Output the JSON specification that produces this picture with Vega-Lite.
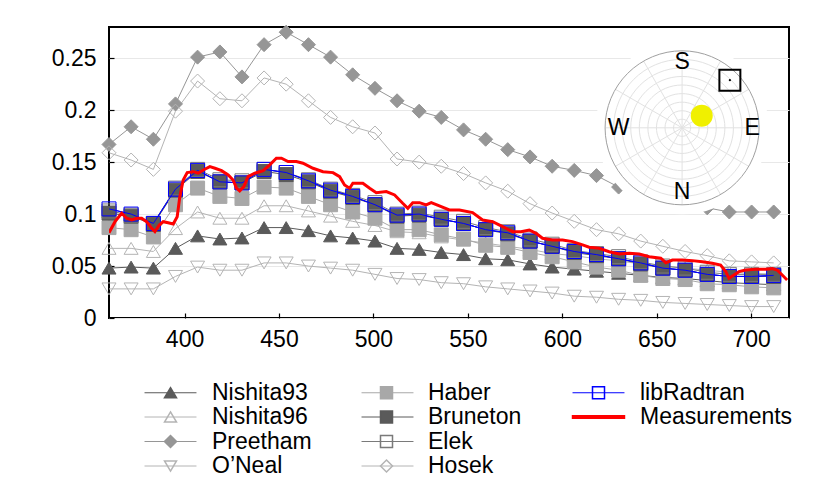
{
  "$schema": "https://vega.github.io/schema/vega-lite/v6.json",
  "width": 680,
  "height": 291,
  "autosize": "none",
  "padding": {"left": 109, "top": 27, "right": 41, "bottom": 170},
  "background": "white",
  "datasets": {
    "models": [
      {"model": "Nishita93", "wl": 360, "value": 0.048},
      {"model": "Nishita93", "wl": 371.7, "value": 0.049},
      {"model": "Nishita93", "wl": 383.5, "value": 0.048},
      {"model": "Nishita93", "wl": 395.2, "value": 0.067},
      {"model": "Nishita93", "wl": 406.9, "value": 0.079},
      {"model": "Nishita93", "wl": 418.7, "value": 0.076},
      {"model": "Nishita93", "wl": 430.4, "value": 0.077},
      {"model": "Nishita93", "wl": 442.1, "value": 0.087},
      {"model": "Nishita93", "wl": 453.8, "value": 0.087},
      {"model": "Nishita93", "wl": 465.6, "value": 0.084},
      {"model": "Nishita93", "wl": 477.3, "value": 0.079},
      {"model": "Nishita93", "wl": 489, "value": 0.077},
      {"model": "Nishita93", "wl": 500.8, "value": 0.074},
      {"model": "Nishita93", "wl": 512.5, "value": 0.067},
      {"model": "Nishita93", "wl": 524.2, "value": 0.066},
      {"model": "Nishita93", "wl": 535.9, "value": 0.063},
      {"model": "Nishita93", "wl": 547.7, "value": 0.061},
      {"model": "Nishita93", "wl": 559.4, "value": 0.057},
      {"model": "Nishita93", "wl": 571.1, "value": 0.056},
      {"model": "Nishita93", "wl": 582.9, "value": 0.052},
      {"model": "Nishita93", "wl": 594.6, "value": 0.049},
      {"model": "Nishita93", "wl": 606.3, "value": 0.047},
      {"model": "Nishita93", "wl": 618.1, "value": 0.045},
      {"model": "Nishita93", "wl": 629.8, "value": 0.043},
      {"model": "Nishita93", "wl": 641.5, "value": 0.041},
      {"model": "Nishita93", "wl": 653.2, "value": 0.039},
      {"model": "Nishita93", "wl": 665, "value": 0.038},
      {"model": "Nishita93", "wl": 676.7, "value": 0.036},
      {"model": "Nishita93", "wl": 688.4, "value": 0.034},
      {"model": "Nishita93", "wl": 700.2, "value": 0.033},
      {"model": "Nishita93", "wl": 711.9, "value": 0.032},
      {"model": "Nishita96", "wl": 360, "value": 0.067},
      {"model": "Nishita96", "wl": 371.7, "value": 0.067},
      {"model": "Nishita96", "wl": 383.5, "value": 0.064},
      {"model": "Nishita96", "wl": 395.2, "value": 0.086},
      {"model": "Nishita96", "wl": 406.9, "value": 0.102},
      {"model": "Nishita96", "wl": 418.7, "value": 0.096},
      {"model": "Nishita96", "wl": 430.4, "value": 0.096},
      {"model": "Nishita96", "wl": 442.1, "value": 0.108},
      {"model": "Nishita96", "wl": 453.8, "value": 0.108},
      {"model": "Nishita96", "wl": 465.6, "value": 0.103},
      {"model": "Nishita96", "wl": 477.3, "value": 0.098},
      {"model": "Nishita96", "wl": 489, "value": 0.093},
      {"model": "Nishita96", "wl": 500.8, "value": 0.089},
      {"model": "Nishita96", "wl": 512.5, "value": 0.083},
      {"model": "Nishita96", "wl": 524.2, "value": 0.082},
      {"model": "Nishita96", "wl": 535.9, "value": 0.078},
      {"model": "Nishita96", "wl": 547.7, "value": 0.075},
      {"model": "Nishita96", "wl": 559.4, "value": 0.072},
      {"model": "Nishita96", "wl": 571.1, "value": 0.069},
      {"model": "Nishita96", "wl": 582.9, "value": 0.066},
      {"model": "Nishita96", "wl": 594.6, "value": 0.062},
      {"model": "Nishita96", "wl": 606.3, "value": 0.060},
      {"model": "Nishita96", "wl": 618.1, "value": 0.057},
      {"model": "Nishita96", "wl": 629.8, "value": 0.055},
      {"model": "Nishita96", "wl": 641.5, "value": 0.052},
      {"model": "Nishita96", "wl": 653.2, "value": 0.050},
      {"model": "Nishita96", "wl": 665, "value": 0.048},
      {"model": "Nishita96", "wl": 676.7, "value": 0.046},
      {"model": "Nishita96", "wl": 688.4, "value": 0.044},
      {"model": "Nishita96", "wl": 700.2, "value": 0.043},
      {"model": "Nishita96", "wl": 711.9, "value": 0.042},
      {"model": "Preetham", "wl": 360, "value": 0.167},
      {"model": "Preetham", "wl": 371.7, "value": 0.184},
      {"model": "Preetham", "wl": 383.5, "value": 0.172},
      {"model": "Preetham", "wl": 395.2, "value": 0.206},
      {"model": "Preetham", "wl": 406.9, "value": 0.251},
      {"model": "Preetham", "wl": 418.7, "value": 0.256},
      {"model": "Preetham", "wl": 430.4, "value": 0.232},
      {"model": "Preetham", "wl": 442.1, "value": 0.263},
      {"model": "Preetham", "wl": 453.8, "value": 0.275},
      {"model": "Preetham", "wl": 465.6, "value": 0.263},
      {"model": "Preetham", "wl": 477.3, "value": 0.251},
      {"model": "Preetham", "wl": 489, "value": 0.234},
      {"model": "Preetham", "wl": 500.8, "value": 0.221},
      {"model": "Preetham", "wl": 512.5, "value": 0.209},
      {"model": "Preetham", "wl": 524.2, "value": 0.199},
      {"model": "Preetham", "wl": 535.9, "value": 0.193},
      {"model": "Preetham", "wl": 547.7, "value": 0.181},
      {"model": "Preetham", "wl": 559.4, "value": 0.172},
      {"model": "Preetham", "wl": 571.1, "value": 0.162},
      {"model": "Preetham", "wl": 582.9, "value": 0.155},
      {"model": "Preetham", "wl": 594.6, "value": 0.146},
      {"model": "Preetham", "wl": 606.3, "value": 0.142},
      {"model": "Preetham", "wl": 618.1, "value": 0.137},
      {"model": "Preetham", "wl": 629.8, "value": 0.126},
      {"model": "Preetham", "wl": 641.5, "value": 0.118},
      {"model": "Preetham", "wl": 653.2, "value": 0.113},
      {"model": "Preetham", "wl": 665, "value": 0.109},
      {"model": "Preetham", "wl": 676.7, "value": 0.106},
      {"model": "Preetham", "wl": 688.4, "value": 0.102},
      {"model": "Preetham", "wl": 700.2, "value": 0.102},
      {"model": "Preetham", "wl": 711.9, "value": 0.102},
      {"model": "O’Neal", "wl": 360, "value": 0.028},
      {"model": "O’Neal", "wl": 371.7, "value": 0.028},
      {"model": "O’Neal", "wl": 383.5, "value": 0.028},
      {"model": "O’Neal", "wl": 395.2, "value": 0.040},
      {"model": "O’Neal", "wl": 406.9, "value": 0.049},
      {"model": "O’Neal", "wl": 418.7, "value": 0.046},
      {"model": "O’Neal", "wl": 430.4, "value": 0.046},
      {"model": "O’Neal", "wl": 442.1, "value": 0.053},
      {"model": "O’Neal", "wl": 453.8, "value": 0.053},
      {"model": "O’Neal", "wl": 465.6, "value": 0.050},
      {"model": "O’Neal", "wl": 477.3, "value": 0.048},
      {"model": "O’Neal", "wl": 489, "value": 0.046},
      {"model": "O’Neal", "wl": 500.8, "value": 0.042},
      {"model": "O’Neal", "wl": 512.5, "value": 0.038},
      {"model": "O’Neal", "wl": 524.2, "value": 0.037},
      {"model": "O’Neal", "wl": 535.9, "value": 0.034},
      {"model": "O’Neal", "wl": 547.7, "value": 0.033},
      {"model": "O’Neal", "wl": 559.4, "value": 0.030},
      {"model": "O’Neal", "wl": 571.1, "value": 0.028},
      {"model": "O’Neal", "wl": 582.9, "value": 0.026},
      {"model": "O’Neal", "wl": 594.6, "value": 0.024},
      {"model": "O’Neal", "wl": 606.3, "value": 0.021},
      {"model": "O’Neal", "wl": 618.1, "value": 0.020},
      {"model": "O’Neal", "wl": 629.8, "value": 0.018},
      {"model": "O’Neal", "wl": 641.5, "value": 0.017},
      {"model": "O’Neal", "wl": 653.2, "value": 0.015},
      {"model": "O’Neal", "wl": 665, "value": 0.014},
      {"model": "O’Neal", "wl": 676.7, "value": 0.013},
      {"model": "O’Neal", "wl": 688.4, "value": 0.012},
      {"model": "O’Neal", "wl": 700.2, "value": 0.011},
      {"model": "O’Neal", "wl": 711.9, "value": 0.011},
      {"model": "Haber", "wl": 360, "value": 0.087},
      {"model": "Haber", "wl": 371.7, "value": 0.085},
      {"model": "Haber", "wl": 383.5, "value": 0.078},
      {"model": "Haber", "wl": 395.2, "value": 0.109},
      {"model": "Haber", "wl": 406.9, "value": 0.125},
      {"model": "Haber", "wl": 418.7, "value": 0.117},
      {"model": "Haber", "wl": 430.4, "value": 0.115},
      {"model": "Haber", "wl": 442.1, "value": 0.126},
      {"model": "Haber", "wl": 453.8, "value": 0.125},
      {"model": "Haber", "wl": 465.6, "value": 0.117},
      {"model": "Haber", "wl": 477.3, "value": 0.109},
      {"model": "Haber", "wl": 489, "value": 0.102},
      {"model": "Haber", "wl": 500.8, "value": 0.096},
      {"model": "Haber", "wl": 512.5, "value": 0.085},
      {"model": "Haber", "wl": 524.2, "value": 0.085},
      {"model": "Haber", "wl": 535.9, "value": 0.080},
      {"model": "Haber", "wl": 547.7, "value": 0.076},
      {"model": "Haber", "wl": 559.4, "value": 0.070},
      {"model": "Haber", "wl": 571.1, "value": 0.068},
      {"model": "Haber", "wl": 582.9, "value": 0.063},
      {"model": "Haber", "wl": 594.6, "value": 0.059},
      {"model": "Haber", "wl": 606.3, "value": 0.054},
      {"model": "Haber", "wl": 618.1, "value": 0.049},
      {"model": "Haber", "wl": 629.8, "value": 0.046},
      {"model": "Haber", "wl": 641.5, "value": 0.041},
      {"model": "Haber", "wl": 653.2, "value": 0.038},
      {"model": "Haber", "wl": 665, "value": 0.037},
      {"model": "Haber", "wl": 676.7, "value": 0.033},
      {"model": "Haber", "wl": 688.4, "value": 0.032},
      {"model": "Haber", "wl": 700.2, "value": 0.030},
      {"model": "Haber", "wl": 711.9, "value": 0.029},
      {"model": "Bruneton", "wl": 360, "value": 0.101},
      {"model": "Bruneton", "wl": 371.7, "value": 0.098},
      {"model": "Bruneton", "wl": 383.5, "value": 0.090},
      {"model": "Bruneton", "wl": 395.2, "value": 0.123},
      {"model": "Bruneton", "wl": 406.9, "value": 0.141},
      {"model": "Bruneton", "wl": 418.7, "value": 0.131},
      {"model": "Bruneton", "wl": 430.4, "value": 0.130},
      {"model": "Bruneton", "wl": 442.1, "value": 0.141},
      {"model": "Bruneton", "wl": 453.8, "value": 0.138},
      {"model": "Bruneton", "wl": 465.6, "value": 0.131},
      {"model": "Bruneton", "wl": 477.3, "value": 0.122},
      {"model": "Bruneton", "wl": 489, "value": 0.116},
      {"model": "Bruneton", "wl": 500.8, "value": 0.109},
      {"model": "Bruneton", "wl": 512.5, "value": 0.098},
      {"model": "Bruneton", "wl": 524.2, "value": 0.099},
      {"model": "Bruneton", "wl": 535.9, "value": 0.095},
      {"model": "Bruneton", "wl": 547.7, "value": 0.091},
      {"model": "Bruneton", "wl": 559.4, "value": 0.085},
      {"model": "Bruneton", "wl": 571.1, "value": 0.081},
      {"model": "Bruneton", "wl": 582.9, "value": 0.074},
      {"model": "Bruneton", "wl": 594.6, "value": 0.069},
      {"model": "Bruneton", "wl": 606.3, "value": 0.063},
      {"model": "Bruneton", "wl": 618.1, "value": 0.060},
      {"model": "Bruneton", "wl": 629.8, "value": 0.057},
      {"model": "Bruneton", "wl": 641.5, "value": 0.052},
      {"model": "Bruneton", "wl": 653.2, "value": 0.048},
      {"model": "Bruneton", "wl": 665, "value": 0.046},
      {"model": "Bruneton", "wl": 676.7, "value": 0.042},
      {"model": "Bruneton", "wl": 688.4, "value": 0.040},
      {"model": "Bruneton", "wl": 700.2, "value": 0.040},
      {"model": "Bruneton", "wl": 711.9, "value": 0.040},
      {"model": "Elek", "wl": 360, "value": 0.103},
      {"model": "Elek", "wl": 371.7, "value": 0.099},
      {"model": "Elek", "wl": 383.5, "value": 0.091},
      {"model": "Elek", "wl": 395.2, "value": 0.125},
      {"model": "Elek", "wl": 406.9, "value": 0.143},
      {"model": "Elek", "wl": 418.7, "value": 0.133},
      {"model": "Elek", "wl": 430.4, "value": 0.132},
      {"model": "Elek", "wl": 442.1, "value": 0.143},
      {"model": "Elek", "wl": 453.8, "value": 0.140},
      {"model": "Elek", "wl": 465.6, "value": 0.133},
      {"model": "Elek", "wl": 477.3, "value": 0.124},
      {"model": "Elek", "wl": 489, "value": 0.118},
      {"model": "Elek", "wl": 500.8, "value": 0.111},
      {"model": "Elek", "wl": 512.5, "value": 0.100},
      {"model": "Elek", "wl": 524.2, "value": 0.101},
      {"model": "Elek", "wl": 535.9, "value": 0.097},
      {"model": "Elek", "wl": 547.7, "value": 0.093},
      {"model": "Elek", "wl": 559.4, "value": 0.087},
      {"model": "Elek", "wl": 571.1, "value": 0.083},
      {"model": "Elek", "wl": 582.9, "value": 0.076},
      {"model": "Elek", "wl": 594.6, "value": 0.071},
      {"model": "Elek", "wl": 606.3, "value": 0.065},
      {"model": "Elek", "wl": 618.1, "value": 0.062},
      {"model": "Elek", "wl": 629.8, "value": 0.059},
      {"model": "Elek", "wl": 641.5, "value": 0.054},
      {"model": "Elek", "wl": 653.2, "value": 0.050},
      {"model": "Elek", "wl": 665, "value": 0.048},
      {"model": "Elek", "wl": 676.7, "value": 0.044},
      {"model": "Elek", "wl": 688.4, "value": 0.042},
      {"model": "Elek", "wl": 700.2, "value": 0.042},
      {"model": "Elek", "wl": 711.9, "value": 0.042},
      {"model": "Hosek", "wl": 360, "value": 0.159},
      {"model": "Hosek", "wl": 371.7, "value": 0.152},
      {"model": "Hosek", "wl": 383.5, "value": 0.143},
      {"model": "Hosek", "wl": 395.2, "value": 0.199},
      {"model": "Hosek", "wl": 406.9, "value": 0.228},
      {"model": "Hosek", "wl": 418.7, "value": 0.211},
      {"model": "Hosek", "wl": 430.4, "value": 0.209},
      {"model": "Hosek", "wl": 442.1, "value": 0.231},
      {"model": "Hosek", "wl": 453.8, "value": 0.225},
      {"model": "Hosek", "wl": 465.6, "value": 0.209},
      {"model": "Hosek", "wl": 477.3, "value": 0.193},
      {"model": "Hosek", "wl": 489, "value": 0.184},
      {"model": "Hosek", "wl": 500.8, "value": 0.178},
      {"model": "Hosek", "wl": 512.5, "value": 0.153},
      {"model": "Hosek", "wl": 524.2, "value": 0.150},
      {"model": "Hosek", "wl": 535.9, "value": 0.146},
      {"model": "Hosek", "wl": 547.7, "value": 0.139},
      {"model": "Hosek", "wl": 559.4, "value": 0.130},
      {"model": "Hosek", "wl": 571.1, "value": 0.122},
      {"model": "Hosek", "wl": 582.9, "value": 0.110},
      {"model": "Hosek", "wl": 594.6, "value": 0.101},
      {"model": "Hosek", "wl": 606.3, "value": 0.093},
      {"model": "Hosek", "wl": 618.1, "value": 0.085},
      {"model": "Hosek", "wl": 629.8, "value": 0.081},
      {"model": "Hosek", "wl": 641.5, "value": 0.074},
      {"model": "Hosek", "wl": 653.2, "value": 0.069},
      {"model": "Hosek", "wl": 665, "value": 0.064},
      {"model": "Hosek", "wl": 676.7, "value": 0.060},
      {"model": "Hosek", "wl": 688.4, "value": 0.055},
      {"model": "Hosek", "wl": 700.2, "value": 0.054},
      {"model": "Hosek", "wl": 711.9, "value": 0.053},
      {"model": "libRadtran", "wl": 360, "value": 0.105},
      {"model": "libRadtran", "wl": 371.7, "value": 0.100},
      {"model": "libRadtran", "wl": 383.5, "value": 0.091},
      {"model": "libRadtran", "wl": 395.2, "value": 0.124},
      {"model": "libRadtran", "wl": 406.9, "value": 0.142},
      {"model": "libRadtran", "wl": 418.7, "value": 0.131},
      {"model": "libRadtran", "wl": 430.4, "value": 0.130},
      {"model": "libRadtran", "wl": 442.1, "value": 0.143},
      {"model": "libRadtran", "wl": 453.8, "value": 0.140},
      {"model": "libRadtran", "wl": 465.6, "value": 0.132},
      {"model": "libRadtran", "wl": 477.3, "value": 0.123},
      {"model": "libRadtran", "wl": 489, "value": 0.117},
      {"model": "libRadtran", "wl": 500.8, "value": 0.109},
      {"model": "libRadtran", "wl": 512.5, "value": 0.099},
      {"model": "libRadtran", "wl": 524.2, "value": 0.100},
      {"model": "libRadtran", "wl": 535.9, "value": 0.095},
      {"model": "libRadtran", "wl": 547.7, "value": 0.091},
      {"model": "libRadtran", "wl": 559.4, "value": 0.085},
      {"model": "libRadtran", "wl": 571.1, "value": 0.082},
      {"model": "libRadtran", "wl": 582.9, "value": 0.074},
      {"model": "libRadtran", "wl": 594.6, "value": 0.069},
      {"model": "libRadtran", "wl": 606.3, "value": 0.064},
      {"model": "libRadtran", "wl": 618.1, "value": 0.061},
      {"model": "libRadtran", "wl": 629.8, "value": 0.057},
      {"model": "libRadtran", "wl": 641.5, "value": 0.053},
      {"model": "libRadtran", "wl": 653.2, "value": 0.048},
      {"model": "libRadtran", "wl": 665, "value": 0.046},
      {"model": "libRadtran", "wl": 676.7, "value": 0.042},
      {"model": "libRadtran", "wl": 688.4, "value": 0.040},
      {"model": "libRadtran", "wl": 700.2, "value": 0.040},
      {"model": "libRadtran", "wl": 711.9, "value": 0.041}
    ],
    "measurements": [
      {"wl": 360.0, "value": 0.0821},
      {"wl": 363.2, "value": 0.0927},
      {"wl": 366.7, "value": 0.1008},
      {"wl": 369.4, "value": 0.0960},
      {"wl": 372.0, "value": 0.0943},
      {"wl": 374.6, "value": 0.0960},
      {"wl": 377.3, "value": 0.0960},
      {"wl": 379.9, "value": 0.0927},
      {"wl": 382.6, "value": 0.0863},
      {"wl": 384.3, "value": 0.0831},
      {"wl": 386.6, "value": 0.0895},
      {"wl": 388.7, "value": 0.0927},
      {"wl": 391.3, "value": 0.0917},
      {"wl": 394.0, "value": 0.0905},
      {"wl": 396.1, "value": 0.0975},
      {"wl": 397.5, "value": 0.1168},
      {"wl": 399.3, "value": 0.1328},
      {"wl": 401.4, "value": 0.1399},
      {"wl": 404.6, "value": 0.1408},
      {"wl": 407.2, "value": 0.1393},
      {"wl": 410.7, "value": 0.1431},
      {"wl": 413.4, "value": 0.1456},
      {"wl": 416.1, "value": 0.1441},
      {"wl": 419.6, "value": 0.1418},
      {"wl": 423.1, "value": 0.1377},
      {"wl": 425.7, "value": 0.1328},
      {"wl": 427.5, "value": 0.1249},
      {"wl": 429.2, "value": 0.1223},
      {"wl": 431.4, "value": 0.1264},
      {"wl": 433.6, "value": 0.1360},
      {"wl": 437.2, "value": 0.1393},
      {"wl": 441.6, "value": 0.1418},
      {"wl": 445.1, "value": 0.1473},
      {"wl": 448.6, "value": 0.1537},
      {"wl": 451.3, "value": 0.1537},
      {"wl": 454.8, "value": 0.1505},
      {"wl": 459.2, "value": 0.1505},
      {"wl": 462.7, "value": 0.1489},
      {"wl": 468.0, "value": 0.1441},
      {"wl": 473.3, "value": 0.1408},
      {"wl": 478.6, "value": 0.1399},
      {"wl": 482.1, "value": 0.1360},
      {"wl": 484.7, "value": 0.1280},
      {"wl": 487.4, "value": 0.1249},
      {"wl": 489.1, "value": 0.1297},
      {"wl": 494.4, "value": 0.1297},
      {"wl": 498.0, "value": 0.1249},
      {"wl": 501.5, "value": 0.1206},
      {"wl": 506.8, "value": 0.1216},
      {"wl": 511.2, "value": 0.1184},
      {"wl": 515.5, "value": 0.1104},
      {"wl": 518.2, "value": 0.1056},
      {"wl": 520.8, "value": 0.1110},
      {"wl": 524.4, "value": 0.1110},
      {"wl": 527.9, "value": 0.1088},
      {"wl": 530.6, "value": 0.1110},
      {"wl": 534.9, "value": 0.1078},
      {"wl": 540.2, "value": 0.1040},
      {"wl": 545.5, "value": 0.1040},
      {"wl": 552.5, "value": 0.1014},
      {"wl": 557.8, "value": 0.0943},
      {"wl": 563.1, "value": 0.0927},
      {"wl": 568.4, "value": 0.0879},
      {"wl": 573.7, "value": 0.0831},
      {"wl": 578.1, "value": 0.0831},
      {"wl": 582.5, "value": 0.0847},
      {"wl": 586.1, "value": 0.0815},
      {"wl": 589.5, "value": 0.0767},
      {"wl": 594.8, "value": 0.0751},
      {"wl": 600.1, "value": 0.0751},
      {"wl": 605.4, "value": 0.0735},
      {"wl": 610.7, "value": 0.0703},
      {"wl": 614.2, "value": 0.0681},
      {"wl": 619.5, "value": 0.0671},
      {"wl": 624.8, "value": 0.0638},
      {"wl": 630.1, "value": 0.0616},
      {"wl": 635.4, "value": 0.0623},
      {"wl": 640.7, "value": 0.0616},
      {"wl": 646.0, "value": 0.0590},
      {"wl": 652.1, "value": 0.0575},
      {"wl": 654.8, "value": 0.0532},
      {"wl": 658.3, "value": 0.0558},
      {"wl": 663.5, "value": 0.0558},
      {"wl": 668.8, "value": 0.0552},
      {"wl": 674.1, "value": 0.0542},
      {"wl": 679.4, "value": 0.0527},
      {"wl": 683.8, "value": 0.0510},
      {"wl": 686.5, "value": 0.0446},
      {"wl": 688.2, "value": 0.0382},
      {"wl": 690.9, "value": 0.0414},
      {"wl": 693.5, "value": 0.0446},
      {"wl": 697.0, "value": 0.0462},
      {"wl": 702.3, "value": 0.0469},
      {"wl": 707.6, "value": 0.0469},
      {"wl": 711.1, "value": 0.0475},
      {"wl": 713.7, "value": 0.0462},
      {"wl": 716.4, "value": 0.0414},
      {"wl": 719.0, "value": 0.0366}
    ]
  },
  "layer": [
    {
      "data": {"name": "models"},
      "mark": {"type": "line", "strokeWidth": 1, "clip": true},
      "encoding": {
        "x": {"field": "wl", "type": "quantitative", "scale": {"domain": [360, 720], "nice": false, "zero": false}, "axis": {"values": [400, 450, 500, 550, 600, 650, 700], "title": null}},
        "y": {"field": "value", "type": "quantitative", "scale": {"domain": [0, 0.28], "nice": false}, "axis": {"values": [0, 0.05, 0.1, 0.15, 0.2, 0.25], "format": "~g", "title": null, "grid": true}},
        "detail": {"field": "model"},
        "stroke": {
          "field": "model",
          "type": "nominal",
          "scale": {
            "domain": ["Nishita93", "Nishita96", "Preetham", "O’Neal", "Haber", "Bruneton", "Elek", "Hosek", "libRadtran", "Measurements", "__"],
            "range": ["#5a5a5a", "#b4b4b4", "#969696", "#b4b4b4", "#a8a8a8", "#5a5a5a", "#7a7a7a", "#b4b4b4", "#0000ff", "#ff0000", "transparent"]
          },
          "legend": {
            "orient": "none",
            "legendX": 34,
            "legendY": 354,
            "columns": 3,
            "gridAlign": "each",
            "columnPadding": 47,
            "rowPadding": 0.5,
            "symbolType": "M-4.33,0L4.33,0",
            "symbolSize": 144,
            "symbolOffset": 16,
            "symbolStrokeWidth": 1,
            "labelOffset": 30,
            "labelFontSize": 23,
            "labelFont": "Liberation Sans",
            "labelOpacity": 0,
            "labelLimit": 400,
            "title": null,
            "padding": 0,
            "labelExpr": "datum.label == '__' ? '' : datum.label"
          }
        }
      }
    },
    {
      "data": {"name": "models"},
      "mark": {"type": "point", "opacity": 1, "strokeWidth": 1, "size": 196},
      "encoding": {
        "x": {"field": "wl", "type": "quantitative"},
        "y": {"field": "value", "type": "quantitative"},
        "color": {
          "field": "model",
          "type": "nominal",
          "scale": {
            "domain": ["Nishita93", "Nishita96", "Preetham", "O’Neal", "Haber", "Bruneton", "Elek", "Hosek", "libRadtran", "Measurements", "_"],
            "range": ["#5a5a5a", "#b4b4b4", "#969696", "#b4b4b4", "#a8a8a8", "#5a5a5a", "#7a7a7a", "#b4b4b4", "#0000ff", "#ff0000", "transparent"]
          }
        },
        "fill": {
          "field": "model",
          "type": "nominal",
          "scale": {
            "domain": ["Nishita93", "Nishita96", "Preetham", "O’Neal", "Haber", "Bruneton", "Elek", "Hosek", "libRadtran", "Measurements", "_"],
            "range": ["#5a5a5a", "transparent", "#969696", "transparent", "#a8a8a8", "#5a5a5a", "transparent", "transparent", "transparent", "#ff0000", "transparent"]
          }
        },
        "shape": {
          "field": "model",
          "type": "nominal",
          "scale": {
            "domain": ["Nishita93", "Nishita96", "Preetham", "O’Neal", "Haber", "Bruneton", "Elek", "Hosek", "libRadtran", "Measurements", "_"],
            "range": [
              "M0,-0.85L1,0.85L-1,0.85Z",
              "M0,-0.85L1,0.85L-1,0.85Z",
              "M0,-1L1,0L0,1L-1,0Z",
              "M0,0.85L1,-0.85L-1,-0.85Z",
              "M-1,-1L1,-1L1,1L-1,1Z",
              "M-1,-1L1,-1L1,1L-1,1Z",
              "M-1,-1L1,-1L1,1L-1,1Z",
              "M0,-1L1,0L0,1L-1,0Z",
              "M-1,-1L1,-1L1,1L-1,1Z",
              "M-4.33,-0.2L4.33,-0.2L4.33,0.2L-4.33,0.2Z",
              "M0,0"
            ]
          },
          "legend": {
            "orient": "none",
            "legendX": 34,
            "legendY": 354,
            "columns": 3,
            "gridAlign": "each",
            "columnPadding": 47,
            "rowPadding": 0.5,
            "symbolSize": 144,
            "symbolOffset": 16,
            "labelOffset": 30,
            "labelFontSize": 23,
            "labelFont": "Liberation Sans",
            "labelColor": "black",
            "labelLimit": 400,
            "title": null,
            "padding": 0,
            "labelExpr": "datum.label == '_' ? '' : datum.label"
          }
        }
      }
    },
    {
      "data": {"name": "models"},
      "transform": [{"filter": "datum.model == 'libRadtran'"}],
      "mark": {"type": "line", "strokeWidth": 1, "color": "#0000ff"},
      "encoding": {
        "x": {"field": "wl", "type": "quantitative"},
        "y": {"field": "value", "type": "quantitative"}
      }
    },
    {
      "data": {"name": "measurements"},
      "mark": {"type": "line", "strokeWidth": 3, "color": "#ff0000", "clip": true},
      "encoding": {
        "x": {"field": "wl", "type": "quantitative"},
        "y": {"field": "value", "type": "quantitative"}
      }
    },
    {
      "data": {"values": [{}]},
      "mark": {"type": "point", "shape": "circle", "size": 29929, "filled": true, "fill": "white", "strokeWidth": 0, "opacity": 1},
      "encoding": {"x": {"datum": 663.4}, "y": {"datum": 0.183}}
    },
    {
      "data": {"values": [{}]},
      "mark": {
        "type": "point",
        "shape": "M0.111,0A0.111,0.111,0,1,1,-0.111,0A0.111,0.111,0,1,1,0.111,0M0.222,0A0.222,0.222,0,1,1,-0.222,0A0.222,0.222,0,1,1,0.222,0M0.333,0A0.333,0.333,0,1,1,-0.333,0A0.333,0.333,0,1,1,0.333,0M0.444,0A0.444,0.444,0,1,1,-0.444,0A0.444,0.444,0,1,1,0.444,0M0.556,0A0.556,0.556,0,1,1,-0.556,0A0.556,0.556,0,1,1,0.556,0M0.667,0A0.667,0.667,0,1,1,-0.667,0A0.667,0.667,0,1,1,0.667,0M0.778,0A0.778,0.778,0,1,1,-0.778,0A0.778,0.778,0,1,1,0.778,0M0.889,0A0.889,0.889,0,1,1,-0.889,0A0.889,0.889,0,1,1,0.889,0M1,0L-1,0M0.866,0.5L-0.866,-0.5M0.5,0.866L-0.5,-0.866M0,1L0,-1M-0.5,0.866L0.5,-0.866M-0.866,0.5L0.866,-0.5",
        "size": 23716,
        "filled": false,
        "stroke": "#e2e2e2",
        "strokeWidth": 1,
        "opacity": 1
      },
      "encoding": {"x": {"datum": 663.4}, "y": {"datum": 0.183}}
    },
    {
      "data": {"values": [{}]},
      "mark": {"type": "point", "shape": "circle", "size": 23716, "filled": false, "stroke": "#a0a0a0", "strokeWidth": 1, "opacity": 1},
      "encoding": {"x": {"datum": 663.4}, "y": {"datum": 0.183}}
    },
    {
      "data": {"values": [{}]},
      "mark": {"type": "point", "shape": "circle", "size": 484, "filled": true, "fill": "#f0f000", "strokeWidth": 0, "opacity": 1},
      "encoding": {"x": {"datum": 673.8}, "y": {"datum": 0.1947}}
    },
    {
      "data": {"values": [{}]},
      "mark": {"type": "point", "shape": "square", "size": 440, "filled": false, "stroke": "black", "strokeWidth": 2, "opacity": 1},
      "encoding": {"x": {"datum": 688.7}, "y": {"datum": 0.2288}}
    },
    {
      "data": {"values": [{}]},
      "mark": {"type": "point", "shape": "circle", "size": 5, "filled": true, "fill": "black", "opacity": 1},
      "encoding": {"x": {"datum": 688.7}, "y": {"datum": 0.2288}}
    },
    {
      "data": {"values": [{}]},
      "mark": {"type": "text", "text": "S", "fontSize": 23, "font": "Liberation Sans", "color": "black", "align": "center", "baseline": "middle"},
      "encoding": {"x": {"datum": 663.4}, "y": {"datum": 0.246}}
    },
    {
      "data": {"values": [{}]},
      "mark": {"type": "text", "text": "W", "fontSize": 23, "font": "Liberation Sans", "color": "black", "align": "center", "baseline": "middle"},
      "encoding": {"x": {"datum": 629.8}, "y": {"datum": 0.183}}
    },
    {
      "data": {"values": [{}]},
      "mark": {"type": "text", "text": "E", "fontSize": 23, "font": "Liberation Sans", "color": "black", "align": "center", "baseline": "middle"},
      "encoding": {"x": {"datum": 700.5}, "y": {"datum": 0.183}}
    },
    {
      "data": {"values": [{}]},
      "mark": {"type": "text", "text": "N", "fontSize": 23, "font": "Liberation Sans", "color": "black", "align": "center", "baseline": "middle"},
      "encoding": {"x": {"datum": 663.4}, "y": {"datum": 0.1216}}
    }
  ],
  "config": {
    "font": "Liberation Sans",
    "view": {"stroke": "black", "strokeWidth": 2},
    "axis": {
      "domain": false,
      "labelFont": "Liberation Sans",
      "labelFontSize": 23,
      "labelColor": "black",
      "tickColor": "black",
      "tickSize": -5,
      "tickWidth": 1.2,
      "gridColor": "#e8e8e8",
      "gridWidth": 1
    },
    "axisX": {"grid": false, "labelPadding": 15},
    "axisY": {"labelPadding": 18}
  }
}
